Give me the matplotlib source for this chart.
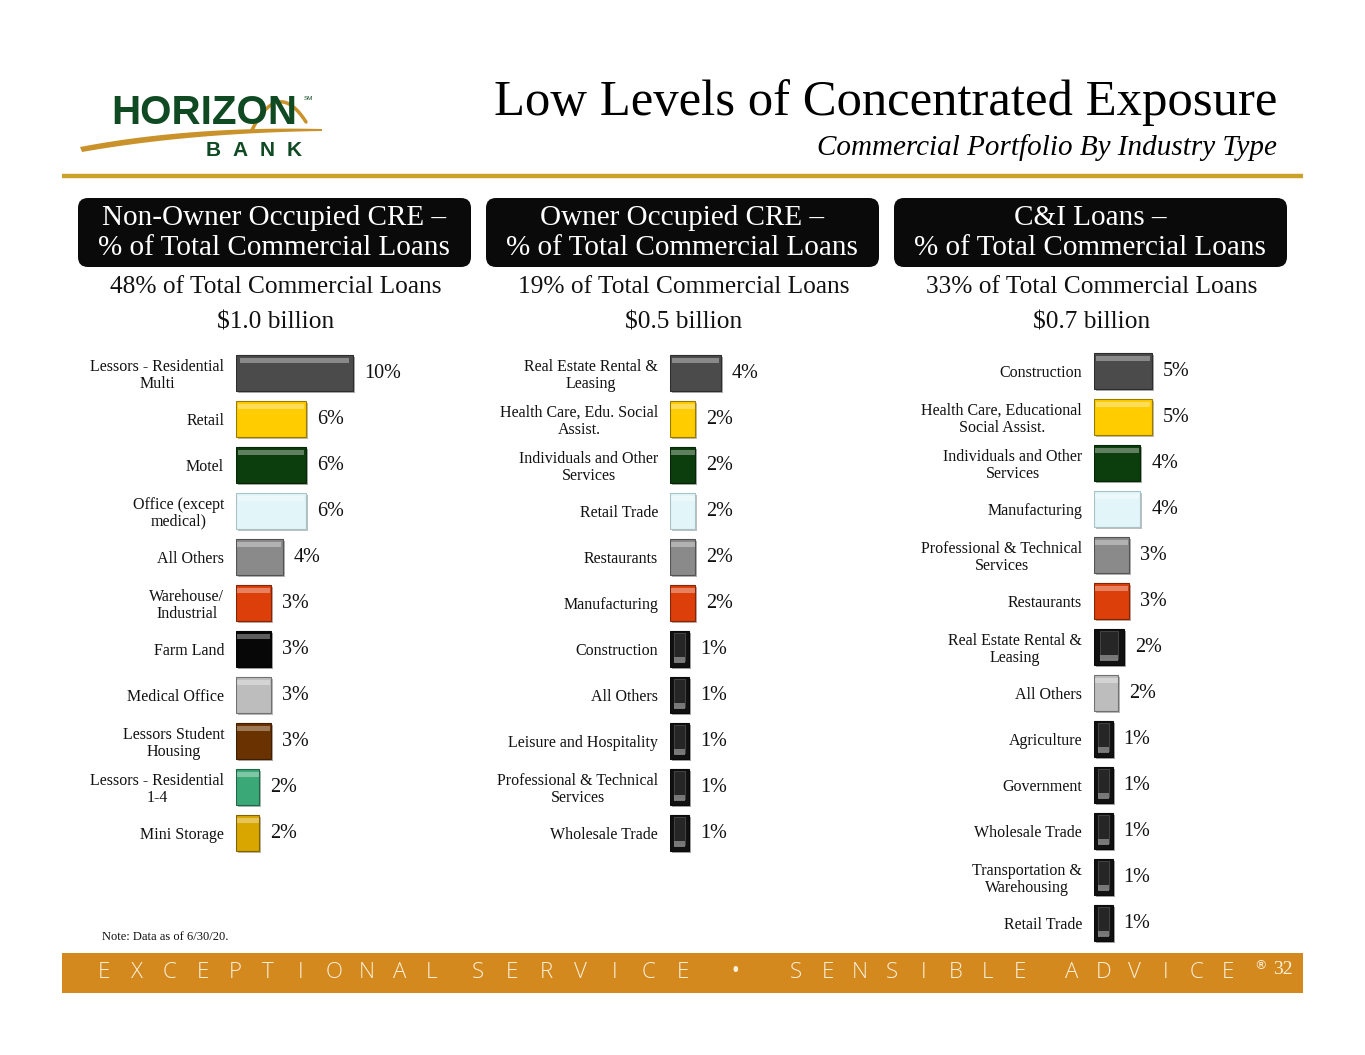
import matplotlib
matplotlib.use("Agg", force=True)
import matplotlib.pyplot as plt
import matplotlib.patheffects as pe
from matplotlib.colors import to_rgb
from matplotlib.patches import FancyBboxPatch, Rectangle, Polygon
import numpy as np

W_PX, H_PX = 1365, 1055
SERIF = "Liberation Serif"

# ---- palette ----
DGRAY = "#4b4b4b"
YELLOW = "#ffcc00"
GREEN = "#0c3d0c"
PALE = "#e2f5f8"
GRAY = "#8a8a8a"
ORANGE = "#dc3f0a"
BLACK = "#070707"
LGRAY = "#bdbdbd"
BROWN = "#6a3200"
SEA = "#3aa877"
GOLD = "#d9a600"
PIC = "#111111"   # picture-filled (textured) bars

# ---- data ----
panel_titles = [
    "Non-Owner Occupied CRE \u2013\n% of Total Commercial Loans",
    "Owner Occupied CRE \u2013\n% of Total Commercial Loans",
    "C&I Loans \u2013\n% of Total Commercial Loans",
]
panel_share = ["48% of Total Commercial Loans", "19% of Total Commercial Loans",
               "33% of Total Commercial Loans"]
panel_amount = ["$1.0 billion", "$0.5 billion", "$0.7 billion"]

p1_labels = ["Lessors - Residential\nMulti", "Retail", "Motel", "Office (except\nmedical)",
             "All Others", "Warehouse/\nIndustrial", "Farm Land", "Medical Office",
             "Lessors Student\nHousing", "Lessors - Residential\n1-4", "Mini Storage"]
p1_pct = [10, 6, 6, 6, 4, 3, 3, 3, 3, 2, 2]
p1_len = [10.0, 6.0, 6.0, 6.0, 4.0, 3.0, 3.0, 3.0, 3.0, 2.0, 2.0]
p1_colors = [DGRAY, YELLOW, GREEN, PALE, GRAY, ORANGE, BLACK, LGRAY, BROWN, SEA, GOLD]

p2_labels = ["Real Estate Rental &\nLeasing", "Health Care, Edu. Social\nAssist.",
             "Individuals and Other\nServices", "Retail Trade", "Restaurants", "Manufacturing",
             "Construction", "All Others", "Leisure and Hospitality",
             "Professional & Technical\nServices", "Wholesale Trade"]
p2_pct = [4, 2, 2, 2, 2, 2, 1, 1, 1, 1, 1]
p2_len = [4.0, 2.0, 2.0, 2.0, 2.0, 2.0, 1.5, 1.5, 1.5, 1.5, 1.5]
p2_colors = [DGRAY, YELLOW, GREEN, PALE, GRAY, ORANGE, PIC, PIC, PIC, PIC, PIC]

p3_labels = ["Construction", "Health Care, Educational\nSocial Assist.",
             "Individuals and Other\nServices", "Manufacturing",
             "Professional & Technical\nServices", "Restaurants", "Real Estate Rental &\nLeasing",
             "All Others", "Agriculture", "Government", "Wholesale Trade",
             "Transportation &\nWarehousing", "Retail Trade"]
p3_pct = [5, 5, 4, 4, 3, 3, 2, 2, 1, 1, 1, 1, 1]
p3_len = [5.0, 5.0, 4.0, 4.0, 3.0, 3.0, 2.6, 2.1, 1.6, 1.6, 1.6, 1.6, 1.6]
p3_colors = [DGRAY, YELLOW, GREEN, PALE, GRAY, ORANGE, PIC, LGRAY, PIC, PIC, PIC, PIC, PIC]

footer_words = ["EXCEPTIONAL", "SERVICE", "\u2022", "SENSIBLE", "ADVICE"]
footer_span = [(104, 432), (478, 683), (735, 735), (796, 1020), (1072, 1228)]


def px_axes(fig, left, top, width, height):
    return fig.add_axes([left / W_PX, 1 - (top + height) / H_PX, width / W_PX, height / H_PX])


def draw_panel(ax, labels, lengths, pct, colors, px_per_pct, width_px):
    n = len(labels)
    y = np.arange(n)
    edges = [tuple(np.array(to_rgb(c)) * 0.6) if c != PALE else "#a9c2c6" for c in colors]
    bars = ax.barh(y, lengths, height=0.78, color=colors, edgecolor=edges, linewidth=0.8,
                   zorder=2)
    for b in bars:
        b.set_path_effects([pe.SimplePatchShadow(offset=(1.5, -1.5), alpha=0.35), pe.Normal()])
    # bevel / texture on top of the bars
    for i, (v, c) in enumerate(zip(lengths, colors)):
        if c == PIC:
            ax.barh(i - 0.05, v * 0.6, left=v * 0.2, height=0.6, color="#262626",
                    edgecolor="#4a4a4a", linewidth=0.6, zorder=3)
            ax.barh(i + 0.24, v * 0.6, left=v * 0.2, height=0.12, color="#8c8c8c",
                    alpha=0.8, linewidth=0, zorder=4)
        else:
            ax.barh(i - 0.27, v * 0.94, left=v * 0.03, height=0.1, color="white",
                    alpha=0.35, linewidth=0, zorder=3)
    for i, (v, p) in enumerate(zip(lengths, pct)):
        ax.annotate(f"{p}%", (v, i), xytext=(8, 0), textcoords="offset points",
                    ha="left", va="center", fontsize=14.5, family=SERIF, color="#111111")
    ax.set_yticks(y)
    ax.set_yticklabels(labels, fontsize=11.5, family=SERIF, color="#111111", linespacing=1.05)
    for t in ax.get_yticklabels():
        t.set_multialignment("center")
    ax.tick_params(axis="y", length=0, pad=8.5)
    ax.set_xticks([])
    ax.set_xlim(0, width_px / px_per_pct)
    ax.set_ylim(n - 0.5, -0.5)
    for s in ax.spines.values():
        s.set_visible(False)
    ax.patch.set_alpha(0)


fig = plt.figure(figsize=(W_PX / 100, H_PX / 100), dpi=100)
bg = fig.add_axes([0, 0, 1, 1])
bg.set_xlim(0, W_PX)
bg.set_ylim(H_PX, 0)
bg.axis("off")

# ---- logo ----
t = np.linspace(0, 1, 60)
def qbez(p0, p1, p2):
    p0, p1, p2 = map(np.array, (p0, p1, p2))
    return ((1 - t)[:, None] ** 2 * p0 + 2 * ((1 - t) * t)[:, None] * p1 + (t ** 2)[:, None] * p2)
upper = qbez((80, 147), (190, 126), (322, 129))
lower = qbez((322, 131), (190, 133), (82, 152))
bg.add_patch(Polygon(np.vstack([upper, lower]), closed=True, color="#c9922a", lw=0, zorder=2))
arc = qbez((252, 130), (278, 78), (306, 122))
bg.plot(arc[:, 0], arc[:, 1], color="#c9922a", lw=2.5, solid_capstyle="round", zorder=2)
bg.text(111, 113, "HORIZON", fontsize=29, family="Liberation Sans", fontweight="bold",
        color="#0f4a23", ha="left", va="center", zorder=3)
bg.text(304, 99, "SM", fontsize=4.5, family="Liberation Sans", color="#0f4a23",
        ha="left", va="center")
for k, ch in enumerate("BANK"):
    bg.text(213 + k * 27, 150, ch, fontsize=15, family="Liberation Sans", fontweight="bold",
            color="#0f4a23", ha="center", va="center")

# ---- titles ----
bg.text(1277, 103, "Low Levels of Concentrated Exposure", fontsize=36.5, family=SERIF,
        ha="right", va="center", color="#000000")
bg.text(1277, 148, "Commercial Portfolio By Industry Type", fontsize=21, family=SERIF,
        style="italic", ha="right", va="center", color="#000000")
bg.plot([62, 1303], [176, 176], color="#c9a227", lw=3.2, solid_capstyle="butt")

# ---- panel headers ----
box_left = [78, 486, 894]
for k in range(3):
    x0 = box_left[k]
    bg.add_patch(FancyBboxPatch((x0 + 8, 206), 393 - 16, 69 - 16,
                                boxstyle="round,pad=8,rounding_size=10",
                                facecolor="#0a0a0a", edgecolor="none"))
    cx = x0 + 196
    bg.text(cx, 233, panel_titles[k], fontsize=21, family=SERIF, color="white",
            ha="center", va="center", linespacing=1.18)
    bg.text(cx + 2, 287, panel_share[k], fontsize=18.3, family=SERIF, ha="center",
            va="center", color="#111111")
    bg.text(cx + 2, 322, panel_amount[k], fontsize=18.3, family=SERIF, ha="center",
            va="center", color="#111111")

# ---- bar panels ----
ax1 = px_axes(fig, 236, 350, 200, 46 * len(p1_labels))
draw_panel(ax1, p1_labels, p1_len, p1_pct, p1_colors, 11.7, 200)
ax2 = px_axes(fig, 670, 350, 200, 46 * len(p2_labels))
draw_panel(ax2, p2_labels, p2_len, p2_pct, p2_colors, 12.7, 200)
ax3 = px_axes(fig, 1094, 348, 180, 46 * len(p3_labels))
draw_panel(ax3, p3_labels, p3_len, p3_pct, p3_colors, 11.6, 180)

# ---- note & footer ----
bg.text(102, 937, "Note: Data as of 6/30/20.", fontsize=9, family=SERIF, ha="left",
        va="center", color="#111111")
bg.add_patch(Rectangle((62, 953), 1241, 40, facecolor="#d4891f", edgecolor="none"))
for w, (xs, xe) in zip(footer_words, footer_span):
    pitch = (xe - xs) / max(len(w) - 1, 1)
    size = 22 if w == "\u2022" else 16
    for j, ch in enumerate(w):
        bg.text(xs + j * pitch, 973, ch, fontsize=size, family="Open Sans", fontweight="light",
                color="#fbf1dc", ha="center", va="center")
bg.text(1261, 966, "\u00ae", fontsize=9, family="DejaVu Sans", color="#fbf1dc",
        ha="center", va="center")
bg.text(1283, 970, "32", fontsize=14, family=SERIF, color="#fbf1dc", ha="center",
        va="center")

fig.savefig("out.png", dpi=100)
